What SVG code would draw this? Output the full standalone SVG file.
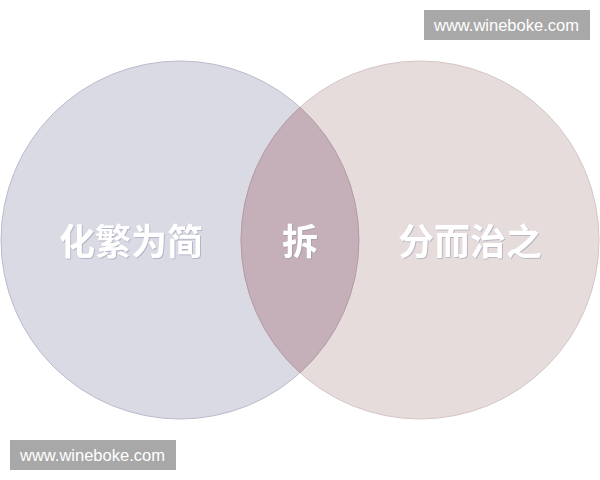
<svg xmlns="http://www.w3.org/2000/svg" width="600" height="480" viewBox="0 0 600 480">
  <defs>
    <filter id="shadow" x="-20%" y="-20%" width="140%" height="140%">
      <feDropShadow dx="0.8" dy="0.8" stdDeviation="0.7" flood-color="#8a8fa8" flood-opacity="0.6"/>
    </filter>
  </defs>
  <style>
    .label { font-family: "Noto Sans CJK SC", "Noto Sans", sans-serif; font-size: 36px; font-weight: bold; fill: #ffffff; text-anchor: middle; filter: url(#shadow); }
    .wm-box { fill: #a8a8a8; }
    .wm-text { font-family: "Liberation Sans", Arial, sans-serif; font-size: 16.5px; fill: #ffffff; }
  </style>
  <rect width="600" height="480" fill="#ffffff"/>
  <g id="left-circle">
    <circle cx="180" cy="240" r="179" fill="#d9dae3" stroke="#babbcc" stroke-width="1"/>
    <text class="label" x="131" y="255">化繁为简</text>
  </g>
  <g id="right-circle">
    <circle cx="420" cy="240" r="179" fill="#e6dcdc" stroke="#d5c6c6" stroke-width="1"/>
    <text class="label" x="470" y="255">分而治之</text>
  </g>
  <g id="intersection">
    <path d="M300,107.2 A179,179 0 0 1 300,372.8 A179,179 0 0 1 300,107.2 Z" fill="#c5b0ba" stroke="#b39aa6" stroke-width="1"/>
    <text class="label" x="300" y="255">拆</text>
  </g>
  <g id="connectors"/>
  <g id="watermark-top">
    <rect class="wm-box" x="424" y="10" width="166" height="30"/>
    <text class="wm-text" x="434" y="31">www.wineboke.com</text>
  </g>
  <g id="watermark-bottom">
    <rect class="wm-box" x="10" y="440" width="166" height="30"/>
    <text class="wm-text" x="20" y="461">www.wineboke.com</text>
  </g>
</svg>
